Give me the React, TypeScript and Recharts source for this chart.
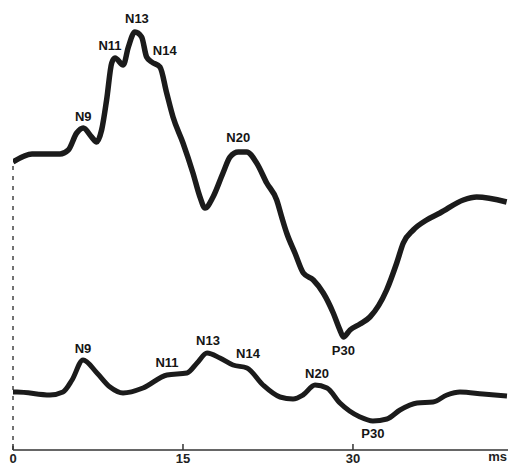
import { LineChart, Line, XAxis, YAxis, ReferenceLine } from 'recharts'

// upper trace (time in ms, amplitude in arbitrary units)
const upperTimes = [
  0, 1.68, 4.15, 4.88, 5.62, 6.2, 6.94, 7.38, 7.82, 8.26, 8.71, 9.0, 9.73, 10.18, 10.76, 11.35,
  11.79, 12.24, 12.97, 13.56, 14.12, 15.0, 15.88, 16.5, 16.94, 17.65, 18.53, 19.15, 19.88, 20.62,
  21.5, 22.39, 23.27, 23.71, 24.15, 24.88, 25.62, 26.5, 27.38, 28.26, 28.85, 29.15, 29.74, 30.62,
  31.5, 32.97, 33.86, 34.44, 35.32, 36.5, 37.68, 39.74, 40.91, 43.56,
]
const upperValues = [
  288, 296, 296, 300, 317, 322, 313, 308, 320, 350, 387, 392, 385, 403, 418, 413,
  393, 388, 383, 357, 333, 307, 277, 253, 242, 253, 277, 293, 298, 298,
  287, 267, 250, 233, 217, 197, 177, 170, 157, 137, 120, 113, 120, 126,
  133, 160, 187, 207, 220, 230, 237, 250, 253, 248,
]

// lower trace
const lowerTimes = [
  0, 0.35, 3.26, 4.41, 5.21, 6.18, 7.41, 8.56, 9.71, 11.47, 13.59, 15.35, 16.24, 17.12, 18.26,
  19.41, 20.65, 22.06, 23.56, 24.71, 25.59, 26.65, 27.71, 28.85, 30.62, 31.76, 33.0, 34.15, 35.65,
  37.06, 38.29, 39.44, 41.47, 43.59,
]
const lowerValues = [
  58, 58, 55, 58, 70, 90, 77, 63, 57, 62, 75, 77, 87, 97, 92,
  85, 82, 65, 53, 51, 55, 65, 62, 47, 33, 29, 31, 40, 47,
  48, 55, 58, 56, 54,
]

const peakNames = ['N9', 'N11', 'N13', 'N14', 'N20', 'P30']
const upperPeakTimes = [6.2, 9.0, 10.76, 12.24, 19.88, 29.15]
const lowerPeakTimes = [6.18, 13.59, 17.12, 20.65, 26.65, 31.76]

const xTicks = [0, 15, 30]

const upperData = upperTimes.map((t, i) => ({ t, v: upperValues[i] }))
const lowerData = lowerTimes.map((t, i) => ({ t, v: lowerValues[i] }))

// label offsets from the peak point, in px
const upperOffsets: Record<string, [number, number]> = {
  N9: [0, -12], N11: [-5, -13], N13: [2, -14], N14: [13, -12], N20: [0, -15], P30: [0, 13],
}
const lowerOffsets: Record<string, [number, number]> = {
  N9: [0, -12], N11: [0, -13], N13: [1, -13], N14: [1, -15], N20: [2, -12], P30: [0, 12],
}

const font = '"Liberation Sans", Arial, sans-serif'

function makePeakDot(peakTimes: number[], offsets: Record<string, [number, number]>) {
  return (props: any) => {
    const { cx, cy, index, payload } = props
    const k = peakTimes.indexOf(payload.t)
    if (k < 0) return <g key={index} />
    const name = peakNames[k]
    const [dx, dy] = offsets[name]
    return (
      <text
        key={index}
        x={cx + dx}
        y={cy + dy}
        textAnchor="middle"
        dominantBaseline="central"
        fontFamily={font}
        fontWeight="bold"
        fontSize={13}
        fill="#151515"
      >
        {name}
      </text>
    )
  }
}

const TimeTick = (props: any) => {
  const { x, y, payload } = props
  return (
    <g>
      <line x1={x} y1={y - 6} x2={x} y2={y} stroke="#333" strokeWidth={1.5} />
      <text x={x} y={y + 12.5} textAnchor="middle" fontFamily={font} fontWeight="bold" fontSize={13} fill="#222">
        {payload.value}
      </text>
    </g>
  )
}

export default function App() {
  return (
    <div style={{ position: 'absolute', left: 0, top: 0, background: '#fff' }}>
      <LineChart width={508} height={464} margin={{ top: 0, right: 0, left: 13, bottom: 0 }}>
        <XAxis
          type="number"
          dataKey="t"
          domain={[0, 43.68]}
          allowDataOverflow
          ticks={xTicks}
          tickSize={0}
          tickMargin={0}
          height={14}
          stroke="#333"
          strokeWidth={1.5}
          tick={<TimeTick />}
          label={{ value: 'ms', position: 'insideRight', dy: -1, offset: 1, fill: '#222', fontFamily: font, fontWeight: 'bold', fontSize: 13 }}
        />
        <YAxis hide type="number" domain={[0, 450]} allowDataOverflow />
        <ReferenceLine
          segment={[{ x: 0, y: 0 }, { x: 0, y: 288 }]}
          stroke="#444"
          strokeWidth={1.5}
          strokeDasharray="4 6"
        />
        <Line
          data={upperData}
          dataKey="v"
          type="monotone"
          stroke="#1b1b1b"
          strokeWidth={5.5}
          dot={makePeakDot(upperPeakTimes, upperOffsets)}
          activeDot={false}
          isAnimationActive={false}
        />
        <Line
          data={lowerData}
          dataKey="v"
          type="monotone"
          stroke="#1b1b1b"
          strokeWidth={5}
          dot={makePeakDot(lowerPeakTimes, lowerOffsets)}
          activeDot={false}
          isAnimationActive={false}
        />
      </LineChart>
    </div>
  )
}
